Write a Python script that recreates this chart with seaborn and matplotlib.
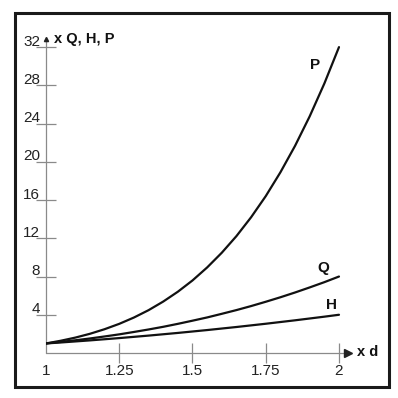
import numpy as np
import pandas as pd
import matplotlib
matplotlib.use("Agg")
import matplotlib.pyplot as plt
import matplotlib.transforms as mtransforms
from matplotlib.patches import Rectangle
import seaborn as sns

# diameter ratio
d = [1.00, 1.05, 1.10, 1.15, 1.20, 1.25, 1.30, 1.35, 1.40, 1.45, 1.50,
     1.55, 1.60, 1.65, 1.70, 1.75, 1.80, 1.85, 1.90, 1.95, 2.00]
# flow ratio Q
q_vals = [1.00, 1.16, 1.33, 1.52, 1.73, 1.95, 2.20, 2.46, 2.74, 3.05, 3.38,
          3.72, 4.10, 4.49, 4.91, 5.36, 5.83, 6.33, 6.86, 7.41, 8.00]
# head ratio H
h_vals = [1.00, 1.10, 1.21, 1.32, 1.44, 1.56, 1.69, 1.82, 1.96, 2.10, 2.25,
          2.40, 2.56, 2.72, 2.89, 3.06, 3.24, 3.42, 3.61, 3.80, 4.00]
# power ratio P
p_vals = [1.00, 1.28, 1.61, 2.01, 2.49, 3.05, 3.71, 4.48, 5.38, 6.41, 7.59,
          8.95, 10.49, 12.23, 14.20, 16.41, 18.90, 21.67, 24.76, 28.19, 32.00]

series_names = ["Q", "H", "P"]
x_ticks = [1, 1.25, 1.5, 1.75, 2]
x_tick_labels = ["1", "1.25", "1.5", "1.75", "2"]
y_ticks = [4, 8, 12, 16, 20, 24, 28, 32]
y_tick_labels = ["4", "8", "12", "16", "20", "24", "28", "32"]
y_axis_title = "x Q, H, P"
x_axis_title = "x d"

df = pd.DataFrame({
    "d": d * 3,
    "value": q_vals + h_vals + p_vals,
    "series": ["Q"] * len(d) + ["H"] * len(d) + ["P"] * len(d),
})

sns.set_style("white")
plt.rcParams["font.family"] = ["Liberation Sans", "DejaVu Sans"]

fig = plt.figure(figsize=(3.98, 3.98), dpi=100)
ax = fig.add_axes([46 / 398, 45 / 398, 351 / 398, 325 / 398])
ax.set_facecolor("white")

sns.lineplot(data=df, x="d", y="value", units="series", estimator=None,
             color="#111111", linewidth=1.6, ax=ax, legend=False)

ax.set_xlim(1, 2.198)
ax.set_ylim(0, 34)
for s in ax.spines.values():
    s.set_visible(False)

axis_col = "#8a8a8a"
# axis lines with arrowheads
ax.plot([1, 2.02], [0, 0], color=axis_col, lw=0.9, clip_on=False, zorder=1)
ax.plot([2.03], [0], marker=">", color="#222222", markersize=6, clip_on=False)
ax.plot([1, 1], [0, 32.6], color=axis_col, lw=0.9, clip_on=False, zorder=1)
ax.plot([1], [32.8], marker="^", color="#222222", markersize=3, clip_on=False)

ax.set_xticks(x_ticks)
ax.set_xticklabels(x_tick_labels, fontsize=11, color="#222222")
ax.set_yticks(y_ticks)
ax.set_yticklabels(y_tick_labels, fontsize=11, color="#222222")
ax.tick_params(axis="x", bottom=True, direction="inout", length=14, width=0.9,
               color=axis_col, pad=1)
ax.tick_params(axis="y", left=True, direction="inout", length=15, width=0.9,
               color=axis_col, pad=-3.3)
ax.xaxis.get_major_ticks()[0].tick1line.set_visible(False)
shift = mtransforms.ScaledTranslation(0, 7 / 100, fig.dpi_scale_trans)
for lab in ax.get_yticklabels():
    lab.set_transform(lab.get_transform() + shift)
ax.set_xlabel("")
ax.set_ylabel("")

ax.text(1.028, 32.9, y_axis_title, fontsize=10.5, fontweight="bold",
        va="center", ha="left", color="#111111")
ax.text(2.06, 0.1, x_axis_title, fontsize=10.5, fontweight="bold",
        va="center", ha="left", color="#111111")

label_pos = {"P": (1.92, 30.1), "Q": (1.945, 8.9), "H": (1.975, 5.0)}
for name in series_names:
    x0, y0 = label_pos[name]
    ax.text(x0, y0, name, fontsize=11, fontweight="bold", ha="center",
            va="center", color="#111111")

fig.add_artist(Rectangle((15 / 398, 11 / 398), 374 / 398, 374 / 398,
                         transform=fig.transFigure, fill=False,
                         edgecolor="#1a1a1a", linewidth=2.2))

fig.savefig("out.png", dpi=100)
